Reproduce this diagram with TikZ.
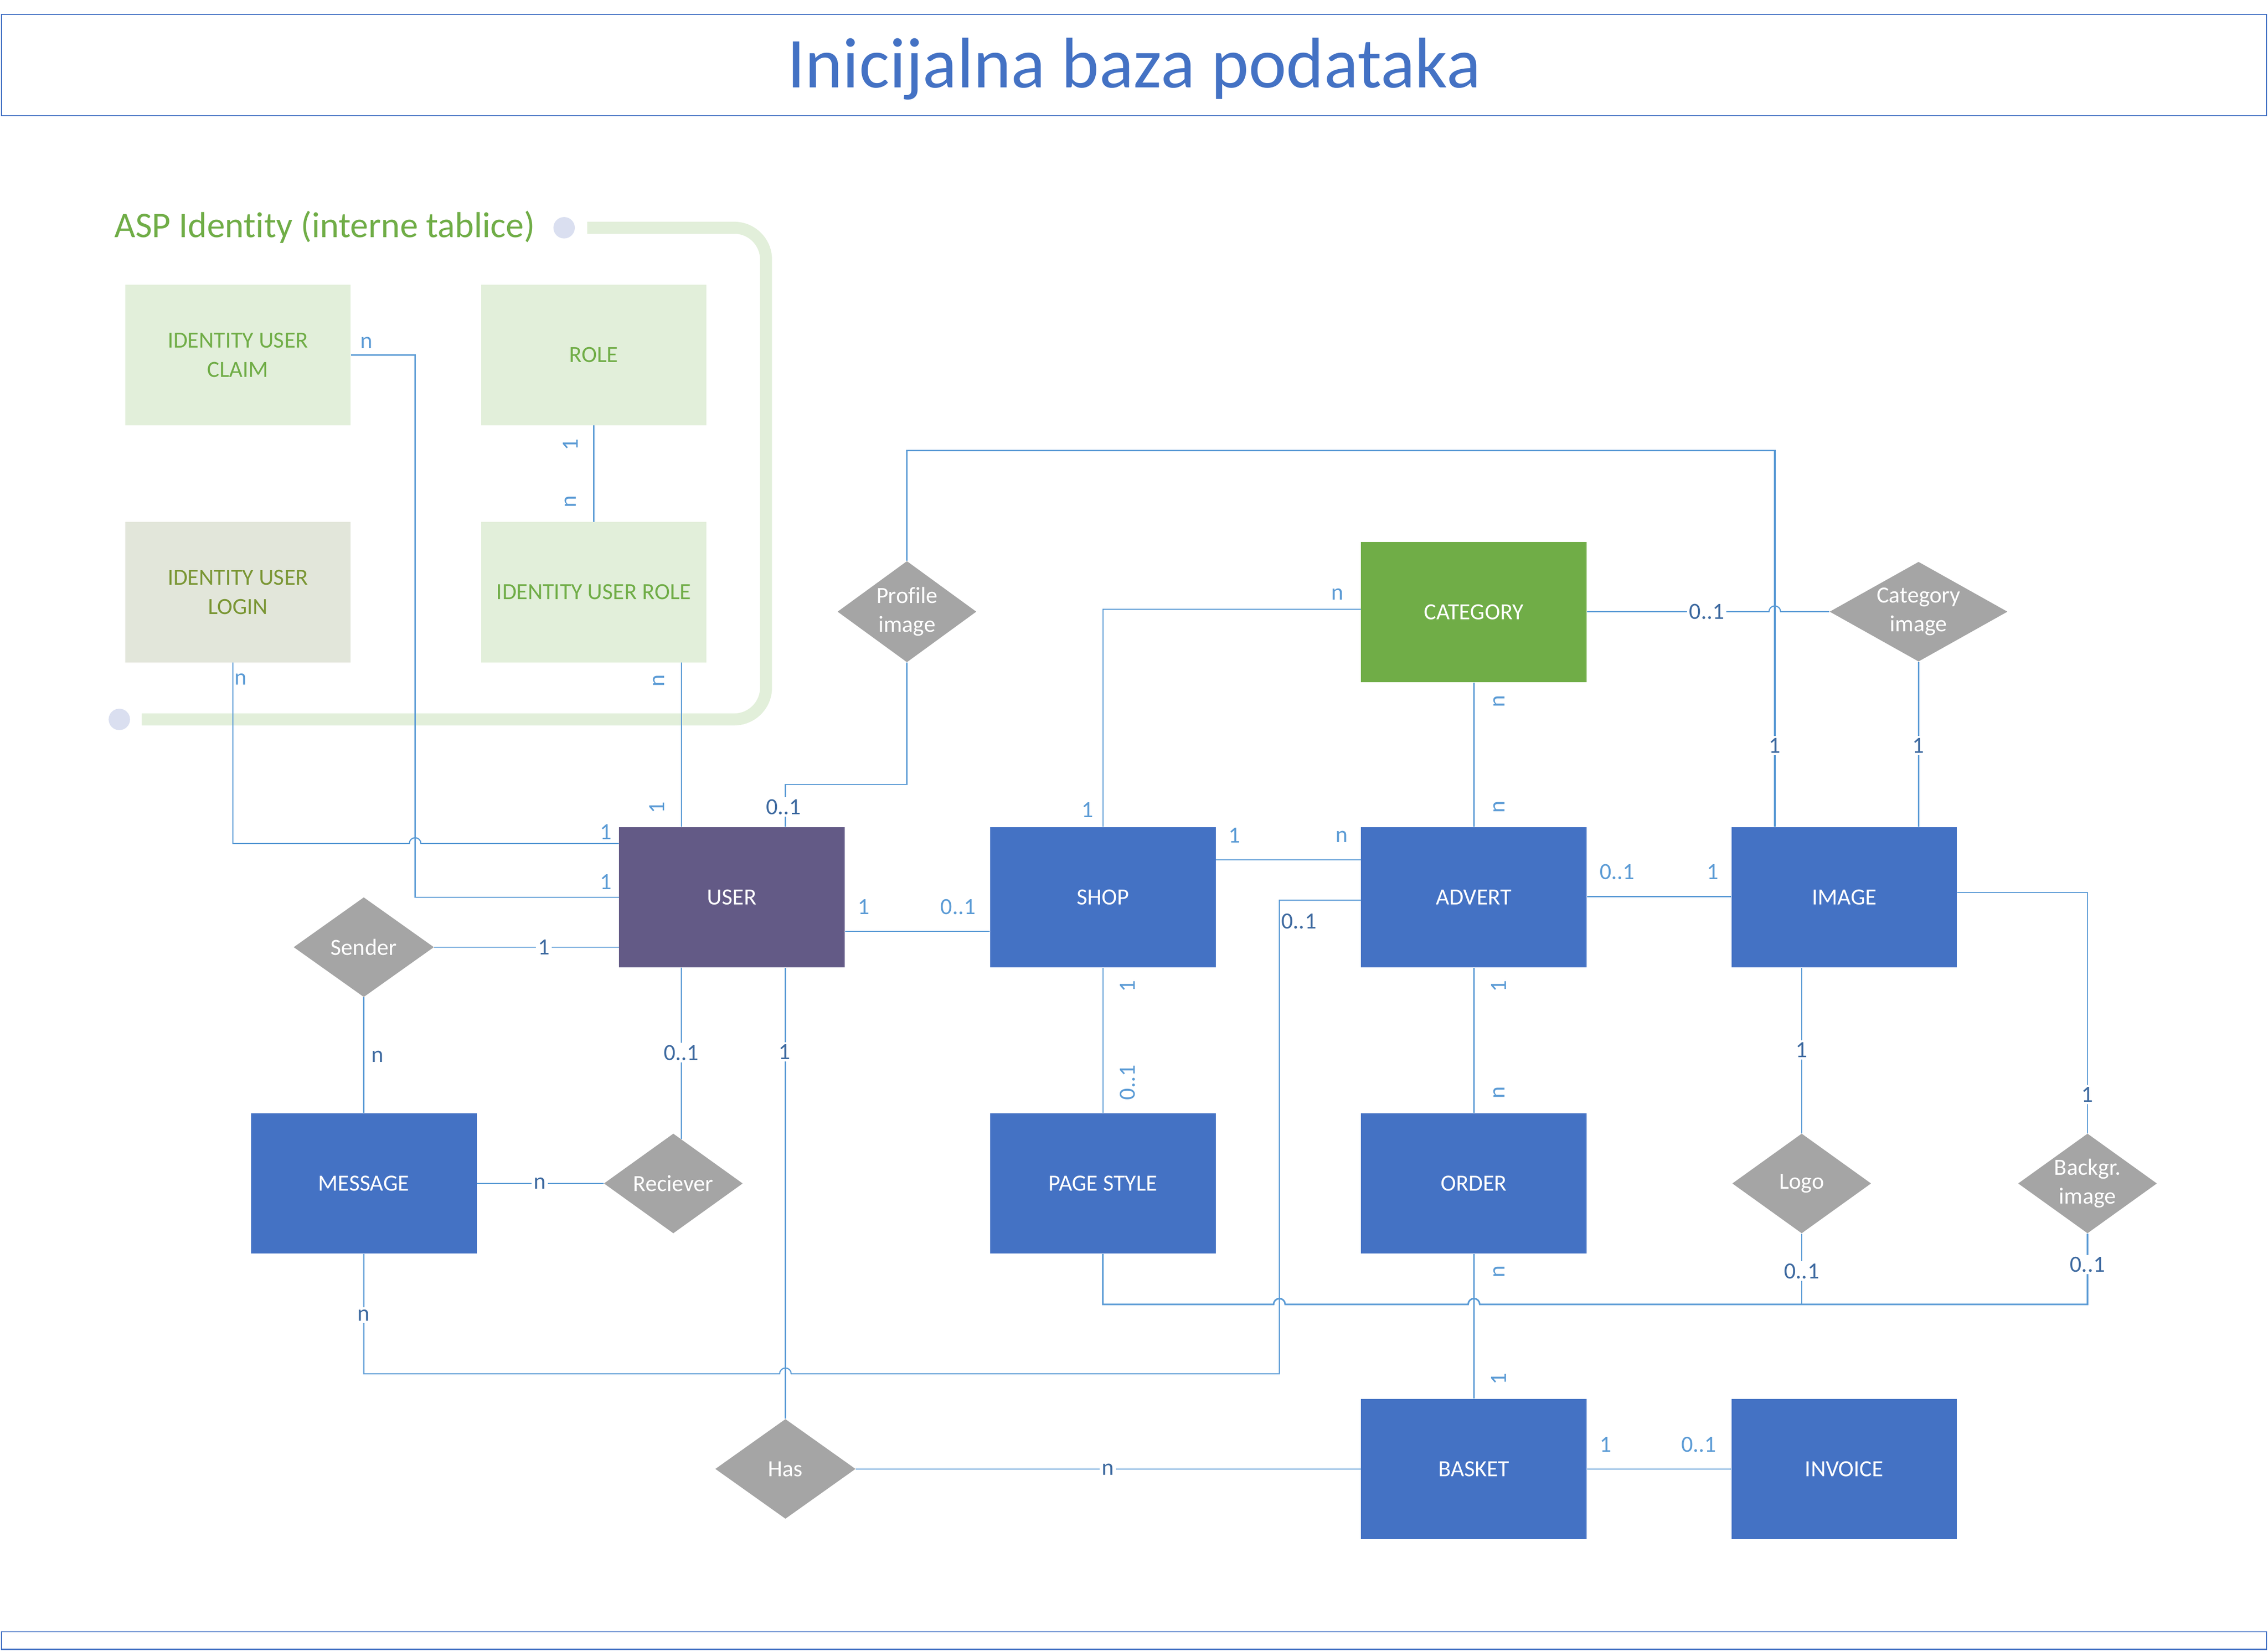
\documentclass[tikz,border=0pt]{standalone}
\usepackage{fontspec}
\setmainfont{Carlito}[Ligatures=NoCommon]
\usetikzlibrary{shapes.geometric,calc}
\definecolor{entblue}{RGB}{68,114,196}
\definecolor{userpurple}{RGB}{99,90,134}
\definecolor{catgreen}{RGB}{112,173,71}
\definecolor{gemgray}{RGB}{165,165,165}
\definecolor{idfill}{RGB}{226,239,218}
\definecolor{loginfill}{RGB}{226,230,218}
\definecolor{logintext}{RGB}{122,150,52}
\definecolor{linkblue}{RGB}{91,155,213}
\definecolor{darklbl}{RGB}{62,106,160}
\definecolor{dotlav}{RGB}{218,223,240}
\begin{document}
\begin{tikzpicture}[x=1pt,y=-1pt,
    link/.style={draw=linkblue,line width=0.8pt},
    entity/.style={rectangle,minimum width=156pt,minimum height=97pt,inner sep=0pt,
      fill=entblue,text=white,align=center,font=\fontsize{16}{20}\selectfont},
    gem/.style 2 args={diamond,fill=gemgray,minimum width=#1pt,minimum height=#2pt,inner sep=0pt},
    gemtext/.style={text=white,align=center,font=\fontsize{16}{20}\selectfont},
    card/.style={text=linkblue,inner sep=1pt,font=\fontsize{16}{19}\selectfont},
    vcard/.style={card,rotate=90},
    mid/.style={text=darklbl,fill=white,inner sep=1.5pt,font=\fontsize{16}{19}\selectfont}]

  \useasboundingbox (0,0) rectangle (1568,1141.7);

  \node[draw=entblue,line width=0.8pt,minimum width=1566pt,minimum height=70pt,text depth=3pt,
    text=entblue,font=\fontsize{49.5}{58}\selectfont] (title) at (784,45) {Inicijalna baza podataka};
  \node[draw=entblue,line width=0.8pt,minimum width=1566pt,minimum height=12pt] (footer) at (784,1134.5) {};

  % ASP Identity group
  \draw[idfill,line width=8.3pt,rounded corners=22pt] (406,157.5) -- (529.6,157.5) -- (529.6,497.5) -- (98,497.5);
  \fill[dotlav] (390,157.5) circle (7.4pt) (82.5,497.5) circle (7.4pt);
  \node[anchor=west,text=catgreen,inner sep=0pt,font=\fontsize{25}{30}\selectfont] (asp) at (79,157) {ASP Identity (interne tablice)};

  \begin{scope}[every node/.style={entity,fill=idfill,text=catgreen}]
    \node (claim)  at (164.5,245.5) {IDENTITY USER\\CLAIM};
    \node (role)   at (410.5,245.5) {ROLE};
    \node[fill=loginfill,text=logintext] (login) at (164.5,409.5) {IDENTITY USER\\LOGIN};
    \node (iurole) at (410.5,409.5) {IDENTITY USER ROLE};
  \end{scope}

  \begin{scope}[every node/.style={entity}]
    \node[fill=userpurple] (user) at (506,620.5) {USER};
    \node (shop)      at (762.5,620.5)  {SHOP};
    \node (advert)    at (1019,620.5)   {ADVERT};
    \node (image)     at (1275,620.5)   {IMAGE};
    \node[fill=catgreen] (category) at (1019,423.3) {CATEGORY};
    \node (message)   at (251.5,818.4)  {MESSAGE};
    \node (pagestyle) at (762.5,818.4)  {PAGE STYLE};
    \node (order)     at (1019,818.4)   {ORDER};
    \node (basket)    at (1019,1015.8)  {BASKET};
    \node (invoice)   at (1275,1015.8)  {INVOICE};
  \end{scope}

  \node[gem={96}{70},label={[gemtext]center:Profile\\image}]   (profile)  at (627,423)      {};
  \node[gem={123}{69},label={[gemtext]center:Category\\image}] (catimg)   at (1326.4,423)   {};
  \node[gem={97}{69},label={[gemtext]center:Sender}]           (sender)   at (251.5,655)    {};
  \node[gem={96}{69},label={[gemtext]center:Reciever}]         (reciever) at (465.5,818.4)  {};
  \node[gem={96}{69},label={[gemtext]center:Logo}]             (logo)     at (1245.6,818.4) {};
  \node[gem={96}{69},label={[gemtext]center:Backgr.\\image}]   (backgr)   at (1443.2,818.4) {};
  \node[gem={97}{69},label={[gemtext]center:Has}]              (has)      at (543,1015.8)   {};

  \coordinate (logojoin) at (1245.6,902);

  \draw[link] (claim.east) -- (287,245.5) -- (287,620.5) -- (user.west);
  \draw[link] (login.south -| 161,0) -- (161,583.3) -- (283,583.3)
    arc[start angle=180,end angle=0,radius=4pt] -- (user.west |- 0,583.3);
  \draw[link] (role) -- (iurole);
  \draw[link] (iurole.south -| 471,0) -- (user.north -| 471,0);
  \draw[link] (user.north -| 543,0) -- (543,542.5) -| (profile.south);
  \draw[link,line width=1.1pt] (profile.north) |- (1227,311.5) -- (image.north -| 1227,0);
  \draw[link] (category.west |- 0,421.3) -| (shop.north);
  \draw[link] (category.east |- 0,423) -- (1223,423)
    arc[start angle=180,end angle=0,radius=4pt] -- (catimg.west);
  \draw[link] (catimg.south) -- (image.north -| catimg.south);
  \draw[link] (category) -- (advert);
  \draw[link] (user.east |- 0,644) -- (shop.west |- 0,644);
  \draw[link] (shop.east |- 0,594.5) -- (advert.west |- 0,594.5);
  \draw[link] (advert.west |- 0,622.5) -- (884.5,622.5) -- (884.5,950) -- (547,950)
    arc[start angle=0,end angle=180,radius=4pt] -- (251.5,950) -- (message.south);
  \draw[link] (advert.east |- 0,620) -- (image.west |- 0,620);
  \draw[link] (shop) -- (pagestyle);
  \draw[link] (advert) -- (order);
  \draw[link] (order) -- (basket);
  \draw[link] (basket) -- (invoice);
  \draw[link] (has) -- (basket);
  \draw[link] (user.south -| 543,0) -- (has.north);
  \draw[link] (user.south -| 471,0) -- ($(reciever.north)!0.115!(reciever.east)$);
  \draw[link] (sender) -- (user.west |- sender);
  \draw[link] (sender) -- (message);
  \draw[link] (message) -- (reciever);
  \draw[link] (image.south -| logo) -- (logo);
  \draw[link] (image.east |- 0,617.2) -| (backgr.north);
  \draw[link,line width=1.1pt] (pagestyle.south) -- (762.5,902) -- (880.5,902)
    arc[start angle=180,end angle=0,radius=4pt] -- (1015,902)
    arc[start angle=180,end angle=0,radius=4pt] -- (1443.2,902) -- (backgr.south);
  \draw[link] (logo.south) -- (logojoin);

  \begin{scope}[every node/.style={card}]
    \node (l-claim)   at (253.4,237)   {n};
    \node (l-claimu)  at (419,610)     {1};
    \node (l-login)   at (166.3,469.8) {n};
    \node (l-loginu)  at (419,575.5)   {1};
    \node (l-usershop) at (597,627)    {1};
    \node (l-shopuser) at (662.5,627)  {0..1};
    \node (l-shopadv) at (853.5,577.5) {1};
    \node (l-advshop) at (927.5,578.5) {n};
    \node (l-catshop) at (924.5,411)   {n};
    \node (l-shopcat) at (752,560)     {1};
    \node (l-advimg)  at (1118,603)    {0..1};
    \node (l-imgadv)  at (1184,603)    {1};
    \node (l-basinv)  at (1110,999)    {1};
    \node (l-invbas)  at (1174.5,999)  {0..1};
  \end{scope}

  \begin{scope}[every node/.style={vcard}]
    \node (l-role)    at (394.5,307.5) {1};
    \node (l-rolei)   at (394.5,347)   {n};
    \node (l-iurole)  at (455.3,470.8) {n};
    \node (l-iuroleu) at (454.3,558.5) {1};
    \node (l-catadv)  at (1036.5,485)  {n};
    \node (l-advcat)  at (1036.5,558)  {n};
    \node (l-shopps)  at (779.5,682)   {1};
    \node (l-psshop)  at (779.5,748.5) {0..1};
    \node (l-advord)  at (1036,682)    {1};
    \node (l-ordadv)  at (1036.5,755.5) {n};
    \node (l-ordbas)  at (1036.5,879.5) {n};
    \node (l-basord)  at (1036,953.5)  {1};
  \end{scope}

  \begin{scope}[every node/.style={mid}]
    \node (m-profile) at (541.7,558)    {0..1};
    \node (m-profimg) at (1227,515.5)   {1};
    \node (m-catimg)  at (1180,423)     {0..1};
    \node (m-imgcat)  at (1326.3,515.5) {1};
    \node[fill=none] (m-advmsg) at (898,637) {0..1};
    \node (m-msgadv)  at (251.5,909.5)  {n};
    \node (m-has)     at (766,1016)     {n};
    \node (m-userhas) at (542.5,727.5)  {1};
    \node (m-userrec) at (471,728)      {0..1};
    \node (m-sender)  at (376,655)      {1};
    \node[fill=none] (m-sendmsg) at (261,730.5) {n};
    \node (m-msgrec)  at (373.2,818.4)  {n};
    \node (m-logo)    at (1245.6,726)   {1};
    \node (m-backgr)  at (1443.2,757)   {1};
    \node (m-logops)  at (1245.6,879)   {0..1};
    \node (m-backps)  at (1443.2,874.5) {0..1};
  \end{scope}

\end{tikzpicture}
\end{document}
